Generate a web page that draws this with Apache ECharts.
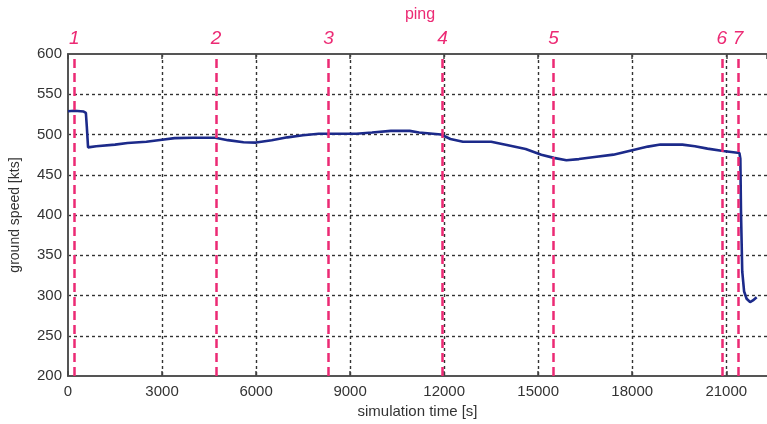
<!DOCTYPE html>
<html><head><meta charset="utf-8">
<script src="https://cdn.jsdelivr.net/npm/echarts@6/dist/echarts.min.js"></script>
<style>html,body{margin:0;padding:0;background:#fff}#c{width:767px;height:424px}</style>
</head><body><div id="c"></div>
<script>
var timeS = [0,200,500,570,600,640,900,1500,1900,2500,3000,3400,4000,4700,5100,5600,6000,6500,7000,7500,8000,8500,9200,9700,10300,10900,11200,11900,12200,12600,13500,14000,14600,15100,15500,15900,16300,16800,17400,18000,18500,18900,19600,20000,20400,20900,21420,21450,21470,21510,21570,21650,21760,21850,21970];
var groundSpeed = [529,529.5,528.5,527,510,484,485.5,487.5,489.5,491,493.5,495.5,496,496,493,490.5,490,493,496.5,499,501,501,501,502.5,504.5,504.5,502.5,500,494.5,491,491,487,482,475,471,468,469.5,472,475,480.5,485,487.5,487.5,485.5,482.5,479.5,477,470,405,330,305,296,292,294,298];
var pingTimes = [200,4720,8310,11950,15490,20860,21375];
var pingLabels = ['1','2','3','4','5','6','7'];
var xTicks = [0,3000,6000,9000,12000,15000,18000,21000];
var yTicks = [200,250,300,350,400,450,500,550,600];

var pink = '#ec2a74';
var lineData = timeS.map(function(t,i){return [t, groundSpeed[i]];});
var chart = echarts.init(document.getElementById('c'));
chart.setOption({
  animation:false,
  textStyle:{fontFamily:'Liberation Sans, Arial, sans-serif'},
  title:{text:'ping', left:415, textAlign:'center', top:2,
    textStyle:{color:pink, fontSize:16, fontWeight:'normal', fontFamily:'Liberation Sans, Arial, sans-serif'}},
  grid:{left:67, right:0, top:54, bottom:46},
  xAxis:[{
    type:'value', min:0, max:22300, interval:3000,
    name:'simulation time [s]', nameLocation:'middle', nameGap:24,
    nameTextStyle:{fontSize:15, color:'#333'},
    axisLine:{show:true, onZero:false, lineStyle:{color:'#555', width:2}},
    axisTick:{show:true, inside:true, length:5, lineStyle:{color:'#444', width:1.5}},
    axisLabel:{color:'#333', fontSize:15, margin:8, showMaxLabel:false,
      formatter:function(v){return xTicks.indexOf(v)>=0 ? String(v) : '';}},
    splitLine:{show:true, showMaxLine:false, showMinLine:false, lineStyle:{color:'#333', type:[3,3], width:1.4}}
  },{
    type:'value', min:0, max:22300, interval:3000, position:'top',
    axisLine:{show:true, onZero:false, lineStyle:{color:'#555', width:2}},
    axisTick:{show:true, inside:true, length:5, lineStyle:{color:'#444', width:1.5}},
    axisLabel:{show:false}, splitLine:{show:false}
  }],
  yAxis:{
    type:'value', min:200, max:600, interval:50,
    name:'ground speed [kts]', nameLocation:'middle', nameGap:46, nameRotate:90,
    nameTextStyle:{fontSize:14, color:'#333'},
    axisLine:{show:true, lineStyle:{color:'#555', width:2}},
    axisTick:{show:false},
    axisLabel:{color:'#333', fontSize:15, margin:6,
      formatter:function(v){return yTicks.indexOf(v)>=0 ? String(v) : '';}},
    splitLine:{show:true, showMaxLine:false, showMinLine:false, lineStyle:{color:'#333', type:[3,3], width:1.4}}
  },
  series:[{
    type:'line', data:lineData, showSymbol:false, symbol:'none',
    lineStyle:{color:'#1c2a8a', width:2.6}, z:3,
    markLine:{
      silent:true, symbol:['none','none'], z:4,
      lineStyle:{color:pink, type:[9,5], width:2.5},
      label:{show:true, position:'end', distance:6, color:pink, fontSize:19, fontStyle:'italic',
        fontFamily:'Liberation Sans, Arial, sans-serif',
        formatter:function(p){return pingLabels[p.dataIndex];}},
      data: pingTimes.map(function(t){return {xAxis:t};})
    }
  }]
});
</script></body></html>
